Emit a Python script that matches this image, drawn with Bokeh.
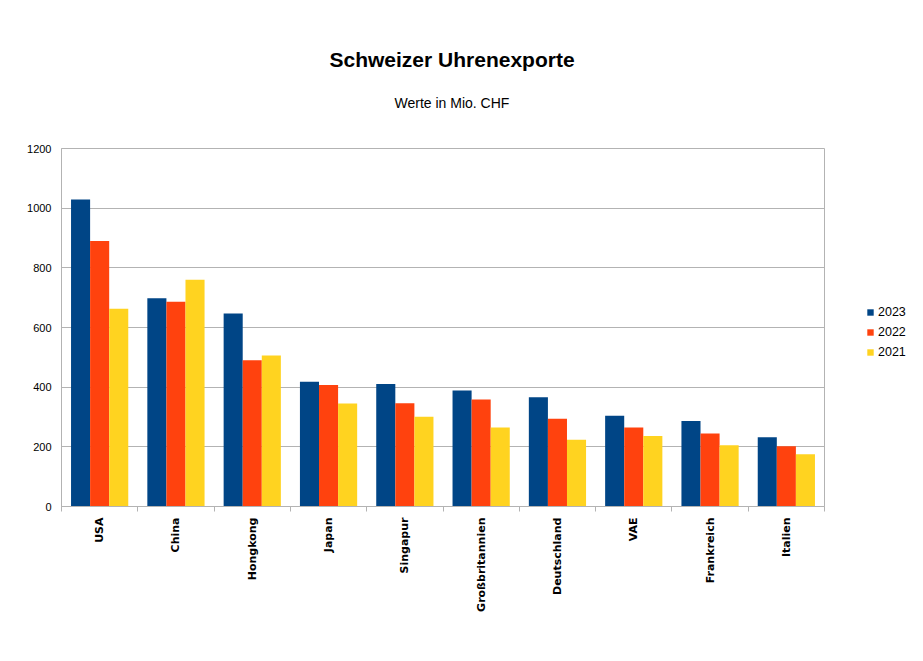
import numpy as np
from bokeh.plotting import figure
from bokeh.layouts import row
from bokeh.models import (ColumnDataSource, Range1d, FixedTicker, Title, Legend, LegendItem)
from bokeh.embed import file_html
from bokeh.resources import INLINE

# ---- data ----
countries = ["USA", "China", "Hongkong", "Japan", "Singapur", "Großbritannien",
             "Deutschland", "VAE", "Frankreich", "Italien"]
years = ["2023", "2022", "2021"]
exports_2023 = [1029, 698, 647, 418, 411, 389, 366, 304, 287, 232]
exports_2022 = [890, 686, 490, 407, 346, 359, 294, 265, 245, 202]
exports_2021 = [663, 760, 506, 345, 301, 265, 224, 236, 205, 175]
y_ticks = [0, 200, 400, 600, 800, 1000, 1200]
colors = ["#004586", "#ff420e", "#ffd320"]

title_text = "Schweizer Uhrenexporte"
subtitle_text = "Werte in Mio. CHF"

W, H = 830, 653
LW = 85
p = figure(width=W, height=H, output_backend="svg", toolbar_location=None,
           x_range=Range1d(0, len(countries)), y_range=Range1d(0, 1200),
           min_border_left=61, min_border_right=W - 824,
           min_border_top=148, min_border_bottom=H - 506)
p.title = None
p.background_fill_color = "white"
p.border_fill_color = "white"
p.outline_line_color = "#b3b3b3"
p.outline_line_width = 1

idx = np.arange(len(countries))
centers = idx + 0.5
bar_w = 0.25
series = [exports_2023, exports_2022, exports_2021]
offsets = [-0.25, 0.0, 0.25]
sources = []
for vals, off, col in zip(series, offsets, colors):
    src = ColumnDataSource(dict(x=centers + off, top=vals))
    sources.append(src)
    p.vbar(x="x", top="top", width=bar_w, bottom=0, source=src,
           fill_color=col, line_color=None)

# grid
p.xgrid.visible = False
p.ygrid.ticker = FixedTicker(ticks=y_ticks)
p.ygrid.grid_line_color = "#b3b3b3"
p.ygrid.grid_line_width = 1

# y axis
ya = p.yaxis[0]
ya.ticker = FixedTicker(ticks=y_ticks)
ya.axis_line_color = "#b3b3b3"
ya.major_tick_in = 0
ya.major_tick_out = 0
ya.minor_tick_line_color = None
ya.major_label_standoff = 10
ya.major_label_text_font = "Liberation Sans"
ya.major_label_text_font_size = "11px"
ya.major_label_text_color = "black"

# x axis: labels at centers, ticks at boundaries (minor)
xa = p.xaxis[0]
xa.ticker = FixedTicker(ticks=list(centers), minor_ticks=list(idx) + [len(countries)])
xa.major_label_overrides = {float(c): n for c, n in zip(centers, countries)}
xa.major_label_orientation = np.pi / 2
xa.axis_line_color = "#b3b3b3"
xa.major_tick_in = 0
xa.major_tick_out = 0
xa.major_tick_line_color = None
xa.minor_tick_in = 0
xa.minor_tick_out = 5
xa.minor_tick_line_color = "#b3b3b3"
xa.major_label_standoff = 6
xa.major_label_text_font = "DejaVu Sans"
xa.major_label_text_font_style = "bold"
xa.major_label_text_font_size = "11px"
xa.major_label_text_color = "black"

# titles (stacked outward from the frame: spacer, subtitle, title)
spacer = Title(text=" ", align="left", standoff=8, text_font_size="10px")
sub = Title(text=subtitle_text, align="left", offset=333, standoff=34,
            text_font="Liberation Sans", text_font_size="14px",
            text_font_style="normal", text_color="black")
ttl = Title(text=title_text, align="left", offset=268, standoff=10,
            text_font="Liberation Sans", text_font_size="21px",
            text_font_style="bold", text_color="black")
p.add_layout(spacer, "above")
p.add_layout(sub, "above")
p.add_layout(ttl, "above")

# legend in a small companion figure to the right (hidden copies of the series)
lp = figure(width=LW, height=H, output_backend="svg", toolbar_location=None,
            x_range=Range1d(0, 1), y_range=Range1d(0, 1),
            min_border_left=0, min_border_right=0, min_border_top=0, min_border_bottom=0)
lp.title = None
lp.axis.visible = False
lp.grid.visible = False
lp.outline_line_color = None
lp.background_fill_color = "white"
lp.border_fill_color = "white"
leg_renderers = []
for src, col in zip(sources, colors):
    r = lp.vbar(x="x", top="top", width=bar_w, source=src,
                fill_color=col, line_color=None, visible=False)
    leg_renderers.append(r)
items = [LegendItem(label=y, renderers=[r]) for y, r in zip(years, leg_renderers)]
legend = Legend(items=items, location=(36, 147), orientation="vertical")
legend.glyph_width = 8
legend.glyph_height = 8
legend.label_standoff = 4
legend.label_width = 30
legend.spacing = 5
legend.padding = 0
legend.margin = 0
legend.border_line_color = None
legend.background_fill_alpha = 0
legend.label_text_font = "Liberation Sans"
legend.label_text_font_size = "12.5px"
legend.label_text_color = "black"
legend.label_height = 15
lp.add_layout(legend, "center")

layout = row(p, lp, spacing=0)
open("out.html", "w").write(file_html(layout, INLINE))
